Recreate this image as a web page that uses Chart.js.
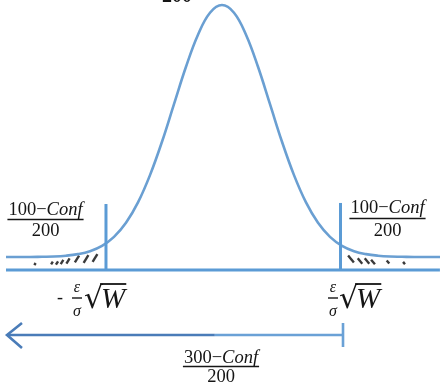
<!DOCTYPE html>
<html>
<head>
<meta charset="utf-8">
<script src="https://cdn.jsdelivr.net/npm/chart.js@4/dist/chart.umd.min.js"></script>
<style>
html,body{margin:0;padding:0;background:#fff;}
canvas{display:block;}
</style>
</head>
<body>
<canvas id="c" width="440" height="383"></canvas>
<script>
// ---- data ----
const zValues = [-4.5,-4.25,-4,-3.75,-3.5,-3.25,-3,-2.75,-2.5,-2.25,-2,-1.75,-1.5,-1.25,-1,-0.75,-0.5,-0.25,0,
                 0.25,0.5,0.75,1,1.25,1.5,1.75,2,2.25,2.5,2.75,3,3.25,3.5,3.75,4,4.25,4.55];
const density = [0.049,0.049,0.049,0.050,0.051,0.054,0.060,0.071,0.091,0.125,0.178,0.255,0.358,0.484,0.626,0.767,0.888,0.971,1.000,
                 0.971,0.888,0.767,0.626,0.484,0.358,0.255,0.178,0.125,0.091,0.071,0.060,0.054,0.051,0.050,0.049,0.049,0.049];
const leftCut = -2.417;
const rightCut = 2.469;
const cutTop = [0.249, 0.253];
const axisRange = [-4.5, 4.54];
const arrowY = -0.245;
const arrowRange = [-4.479, 2.521];
const arrowSplit = -0.15;
const arrowHead = {x:-4.167, y1:-0.20, y2:-0.294};
const arrowTick = [-0.20, -0.291];
const leftHatchZ = [-3.896,-3.542,-3.4375,-3.333,-3.208,-3.021,-2.833,-2.646];
const leftHatchV = [0.0226,0.0264,0.0264,0.0302,0.034,0.0415,0.0415,0.0453];
const leftHatchLen = [1.2,1.6,2,2.5,3,4,4.5,4.5];
const rightHatchZ = [2.6875,2.875,3.021,3.146,3.458,3.792];
const rightHatchV = [0.0415,0.034,0.034,0.0302,0.0302,0.0264];
const rightHatchLen = [4.5,3.5,3.5,3,2,1.5];
const tailNumer = ["100−", "Conf"];
const tailDenom = "200";
const rangeNumer = ["300−", "Conf"];
const rangeDenom = "200";
const topDenom = "200";

const blue = '#5b9bd5';
const lineDs = (pts, color, w) => ({type:'scatter', data:pts, showLine:true, borderColor:color, borderWidth:w, pointRadius:0, tension:0, fill:false});

const curvePts = zValues.map((z,i)=>({x:z, y:density[i]}));

const textPlugin = {
  id:'texts',
  afterDatasetsDraw(chart){
    const ctx = chart.ctx;
    ctx.save();
    ctx.fillStyle = '#151515';
    ctx.strokeStyle = '#151515';
    ctx.textBaseline = 'alphabetic';
    const upF = '18.5px "Liberation Serif"';
    const itF = 'italic 18.5px "Liberation Serif"';
    function fraction(cx, numBase, barY, denBase, numer, denom){
      ctx.font = upF; const w1 = ctx.measureText(numer[0]).width;
      ctx.font = itF; const w2 = ctx.measureText(numer[1]).width;
      const tw = w1 + w2;
      let x0 = cx - tw/2;
      ctx.textAlign = 'left';
      ctx.font = upF; ctx.fillText(numer[0], x0, numBase);
      ctx.font = itF; ctx.fillText(numer[1], x0 + w1, numBase);
      ctx.lineWidth = 1.6;
      ctx.beginPath(); ctx.moveTo(x0 - 1, barY); ctx.lineTo(x0 + tw + 1, barY); ctx.stroke();
      ctx.font = upF; ctx.textAlign = 'center';
      ctx.fillText(denom, cx, denBase);
    }
    fraction(45.5, 215, 219.5, 236, tailNumer, tailDenom);
    fraction(387.5, 213, 218.5, 236, tailNumer, tailDenom);
    fraction(221, 363, 366.5, 382, rangeNumer, rangeDenom);
    // top cut-off denominator
    ctx.font = 'bold 20px "Liberation Serif"'; ctx.textAlign = 'center';
    ctx.fillText(topDenom, 177, 2);

    function sqrtW(epsX, x0){
      ctx.textAlign = 'center';
      ctx.font = 'italic 16px "Liberation Serif"';
      ctx.fillText('ε', epsX, 292);
      ctx.lineWidth = 1.4;
      ctx.beginPath(); ctx.moveTo(epsX-5, 298); ctx.lineTo(epsX+5, 298); ctx.stroke();
      ctx.fillText('σ', epsX, 316);
      ctx.textAlign = 'left';
      ctx.font = '30px "DejaVu Sans"';
      ctx.fillText('√', x0, 308);
      const rw = ctx.measureText('√').width;
      ctx.font = 'italic 29px "Liberation Serif"';
      const ww = ctx.measureText('W').width;
      ctx.fillText('W', x0 + rw - 2, 308);
      ctx.lineWidth = 1.8;
      ctx.beginPath(); ctx.moveTo(x0 + rw - 3, 284); ctx.lineTo(x0 + rw + ww - 1, 284); ctx.stroke();
    }
    ctx.font = '18px "Liberation Serif"'; ctx.textAlign='center';
    ctx.fillText('-', 60, 303);
    sqrtW(77, 84);
    sqrtW(333, 339);
    ctx.restore();
  }
};

new Chart(document.getElementById('c'), {
  type:'scatter',
  data:{datasets:[
    lineDs([{x:axisRange[0],y:0},{x:axisRange[1],y:0}], blue, 3),
    lineDs([{x:leftCut,y:0},{x:leftCut,y:cutTop[0]}], blue, 3),
    lineDs([{x:rightCut,y:0},{x:rightCut,y:cutTop[1]}], blue, 3),
    Object.assign(lineDs(curvePts, '#6a9fd2', 2.6), {tension:0.4}),
    lineDs([{x:arrowRange[0],y:arrowY},{x:arrowSplit,y:arrowY}], '#4a7cb8', 2.6),
    lineDs([{x:arrowSplit,y:arrowY},{x:arrowRange[1],y:arrowY}], '#6aa1d6', 2.6),
    lineDs([{x:arrowHead.x,y:arrowHead.y1},{x:arrowRange[0],y:arrowY},{x:arrowHead.x,y:arrowHead.y2}], '#4a7cb8', 2.6),
    lineDs([{x:arrowRange[1],y:arrowTick[0]},{x:arrowRange[1],y:arrowTick[1]}], '#6aa1d6', 2.6),
    {type:'scatter', data:leftHatchZ.map((z,i)=>({x:z,y:leftHatchV[i]})), pointStyle:'line', pointRadius:leftHatchLen, pointRotation:-58, borderColor:'#3a3a3a', borderWidth:2.4, backgroundColor:'#3a3a3a'},
    {type:'scatter', data:rightHatchZ.map((z,i)=>({x:z,y:rightHatchV[i]})), pointStyle:'line', pointRadius:rightHatchLen, pointRotation:50, borderColor:'#3a3a3a', borderWidth:2.4, backgroundColor:'#3a3a3a'}
  ]},
  options:{
    responsive:false, animation:false, devicePixelRatio:1,
    layout:{padding:0, autoPadding:false},
    plugins:{legend:{display:false}, tooltip:{enabled:false}},
    events:[],
    scales:{
      x:{type:'linear', display:false, min:-4.625, max:4.5417},
      y:{type:'linear', display:false, min:-0.4264, max:1.0189}
    }
  },
  plugins:[textPlugin]
});
</script>
</body>
</html>
